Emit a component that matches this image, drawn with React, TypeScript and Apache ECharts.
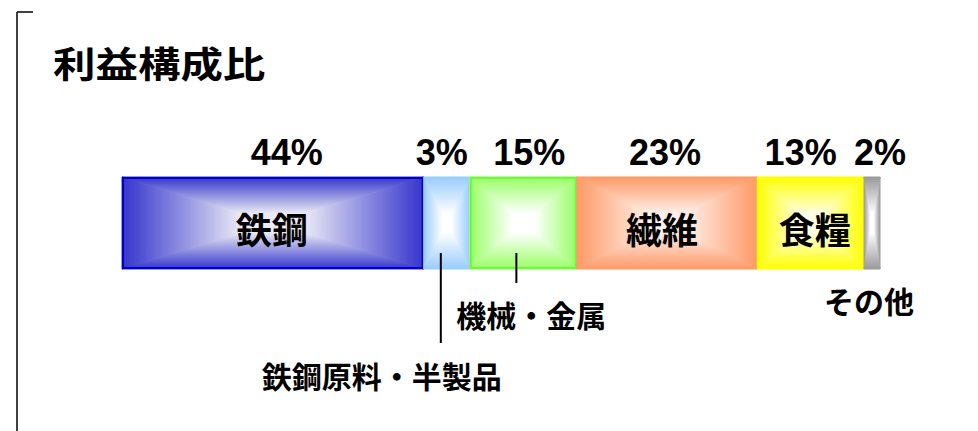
import React, { useEffect, useRef } from "react";
import * as echarts from "echarts";

// ---- data ----
const categories = ["鉄鋼", "鉄鋼原料・半製品", "機械・金属", "繊維", "食糧", "その他"];
// drawn share of each segment
const shares = [39.8, 6.1, 14.1, 23.8, 14.1, 2.1];
// printed percentage labels
const pctLabels = ["44%", "3%", "15%", "23%", "13%", "2%"];
const title = "利益構成比";

// ---- styles / layout ----
const edgeColors = ["#3434CC", "#99CCFF", "#99FF66", "#FF9966", "#FFFF00", "#999999"];
const centerColors = ["#ECECF6", "#FFFFFF", "#FFFFFF", "#FFF0EA", "#FFFFE6", "#FFFFFF"];
const borderColors = ["#0000CC", null, "#66FF33", null, null, null];
const pctOffsets = [14, -5, 6, -2, -10, 8];
const nameLayout = [
  { mode: "inside", dx: -1, dy: 5 },
  { mode: "below", dx: -65, dy: 152, lineDx: -6, lineTop: -16, lineBottom: 74 },
  { mode: "below", dx: 8, dy: 91, lineDx: -7, lineTop: -16, lineBottom: 14 },
  { mode: "inside", dx: -5, dy: 5 },
  { mode: "inside", dx: 4, dy: 5 },
  { mode: "below", dx: -3, dy: 77 },
];

const FONT_LAT = "'Liberation Sans', Arial, 'Noto Sans CJK JP', sans-serif";
const FONT_CJK = "'Noto Sans CJK JP', 'Liberation Sans', sans-serif";

export default function App() {
  const ref = useRef<HTMLDivElement>(null);
  useEffect(() => {
    if (!ref.current) return;
    const chart = echarts.init(ref.current, undefined, { renderer: "svg" });
    const total = shares.reduce((a, b) => a + b, 0);
    let acc = 0;
    const data = shares.map((v, i) => {
      const item = [acc, acc + v, i];
      acc += v;
      return item;
    });

    const renderItem = (params: any, api: any) => {
      const s = api.value(0);
      const e = api.value(1);
      const i = api.value(2);
      const p0 = api.coord([s, 0]);
      const p1 = api.coord([e, 0]);
      const h = api.size([0, 1])[1];
      const x0 = p0[0];
      const x1 = p1[0];
      const y0 = p0[1] - h / 2;
      const y1 = p0[1] + h / 2;
      const cx = (x0 + x1) / 2;
      const cy = (y0 + y1) / 2;
      const ec = edgeColors[i];
      const cc = centerColors[i];
      const grad = (x: number, y: number, x2: number, y2: number) =>
        new echarts.graphic.LinearGradient(x, y, x2, y2, [
          { offset: 0, color: ec },
          { offset: 0.8, color: cc },
          { offset: 1, color: cc },
        ]);
      const tri = (pts: number[][], g: any) => ({
        type: "polygon",
        shape: { points: pts },
        style: { fill: g, stroke: g, lineWidth: 1, lineJoin: "round" },
      });
      const children: any[] = [
        tri([[x0, y0], [x0, y1], [cx, cy]], grad(0, 0, 1, 0)),
        tri([[x1, y0], [x1, y1], [cx, cy]], grad(1, 0, 0, 0)),
        tri([[x0, y0], [x1, y0], [cx, cy]], grad(0, 0, 0, 1)),
        tri([[x0, y1], [x1, y1], [cx, cy]], grad(0, 1, 0, 0)),
      ];
      const bc = borderColors[i];
      if (bc) {
        children.push({
          type: "rect",
          shape: { x: x0 + 1, y: y0 + 1, width: x1 - x0 - 2, height: y1 - y0 - 2 },
          style: { fill: "none", stroke: bc, lineWidth: 2 },
        });
      }
      children.push({
        type: "text",
        style: {
          text: pctLabels[i],
          x: cx + pctOffsets[i],
          y: y0 - 25,
          fill: "#000",
          font: `bold 36px ${FONT_LAT}`,
          align: "center",
          verticalAlign: "middle",
        },
      });
      const nl: any = nameLayout[i];
      if (nl.mode === "inside") {
        children.push({
          type: "text",
          style: {
            text: categories[i],
            x: cx + nl.dx,
            y: cy + nl.dy,
            fill: "#000",
            font: `bold 36px ${FONT_CJK}`,
            align: "center",
            verticalAlign: "middle",
          },
        });
      } else {
        if (nl.lineDx !== undefined) {
          children.push({
            type: "line",
            shape: { x1: cx + nl.lineDx, y1: y1 + nl.lineTop, x2: cx + nl.lineDx, y2: y1 + nl.lineBottom },
            style: { stroke: "#000", lineWidth: 2 },
          });
        }
        children.push({
          type: "text",
          style: {
            text: categories[i],
            x: cx + nl.dx,
            y: cy + nl.dy,
            fill: "#000",
            font: `bold 30px ${FONT_CJK}`,
            align: "center",
            verticalAlign: "middle",
          },
        });
      }
      return { type: "group", children };
    };

    chart.setOption({
      animation: false,
      grid: { left: 122, top: 177, width: 758, height: 92 },
      xAxis: { type: "value", min: 0, max: total, show: false },
      yAxis: { type: "category", data: ["利益"], show: false },
      graphic: [
        { type: "line", shape: { x1: 17, y1: 12, x2: 17, y2: 431 }, style: { stroke: "#000", lineWidth: 1.5 } },
        { type: "line", shape: { x1: 17, y1: 12, x2: 33, y2: 12 }, style: { stroke: "#000", lineWidth: 1.5 } },
        {
          type: "text",
          x: 53,
          y: 62,
          scaleX: 1.18,
          style: {
            text: title,
            fill: "#000",
            font: `bold 36px ${FONT_CJK}`,
            verticalAlign: "middle",
          },
        },
      ],
      series: [
        {
          type: "custom",
          renderItem,
          clip: false,
          encode: { x: [0, 1], y: -1 },
          data,
        },
      ],
    });
    return () => chart.dispose();
  }, []);
  return (
    <div
      ref={ref}
      style={{ position: "fixed", left: 0, top: 0, width: 978, height: 431, background: "#fff" }}
    />
  );
}
